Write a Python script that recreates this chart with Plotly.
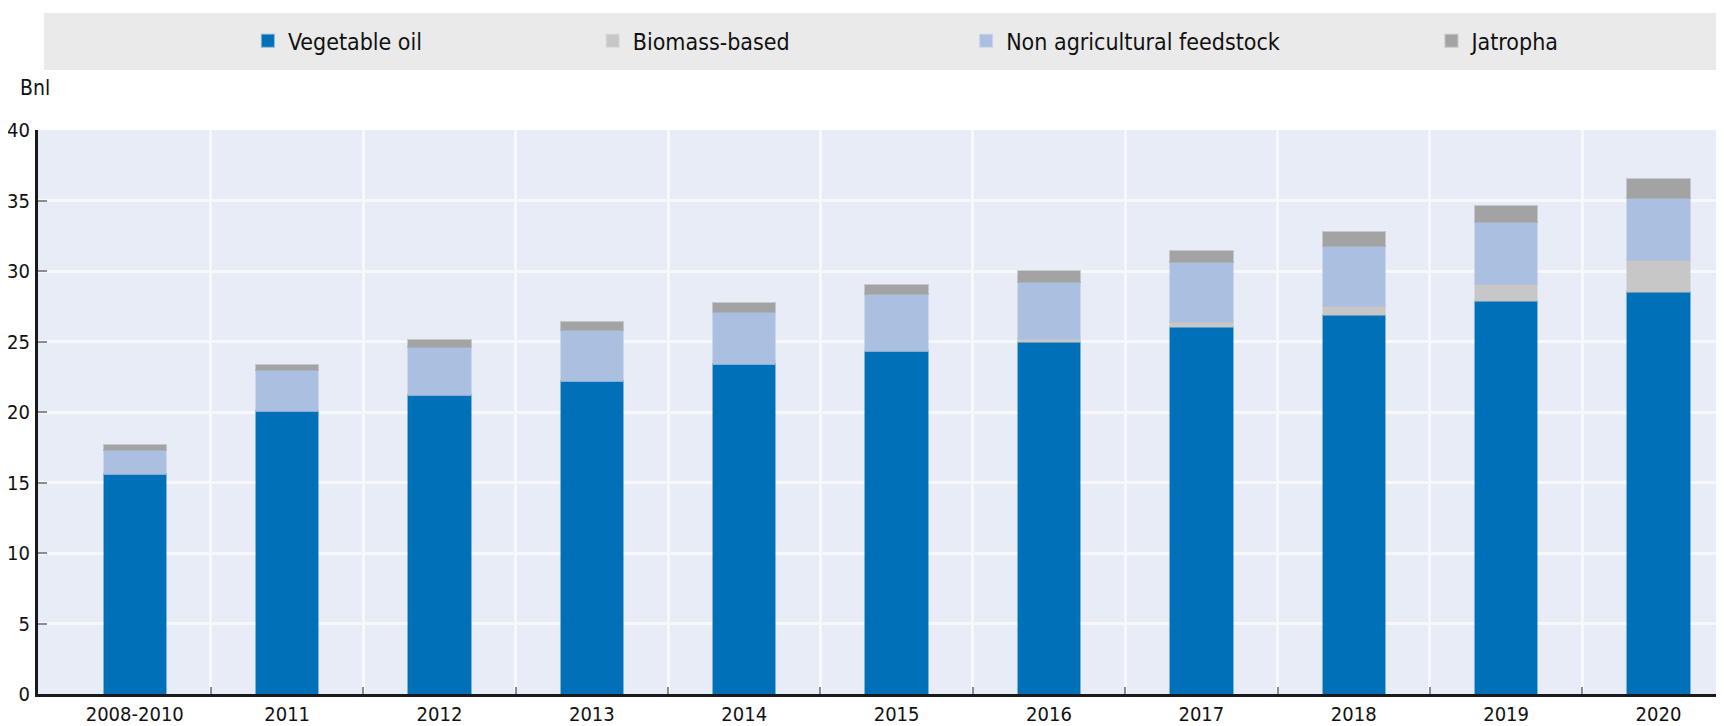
import plotly.graph_objects as go

# data (billion litres)
categories = ["2008-2010", "2011", "2012", "2013", "2014", "2015",
              "2016", "2017", "2018", "2019", "2020"]
vegetable_oil = [15.6, 20.1, 21.2, 22.2, 23.4, 24.3, 25.0, 26.0, 26.9, 27.9, 28.5]
biomass_based = [0.0, 0.0, 0.0, 0.0, 0.0, 0.05, 0.15, 0.35, 0.65, 1.2, 2.3]
non_agri = [1.7, 2.9, 3.4, 3.6, 3.7, 4.0, 4.1, 4.3, 4.2, 4.4, 4.4]
jatropha = [0.35, 0.35, 0.5, 0.55, 0.6, 0.65, 0.75, 0.8, 1.05, 1.1, 1.3]

FONT = "Liberation Sans Narrow, DejaVu Sans Condensed, Arial Narrow, sans-serif"

series = [
    ("Vegetable oil", vegetable_oil, "#0070B8", "rgba(0,112,184,0.45)"),
    ("Biomass-based", biomass_based, "#C7C7C7", "rgba(199,199,199,0.5)"),
    ("Non agricultural feedstock", non_agri, "#ABBFE1", "rgba(171,191,225,0.5)"),
    ("Jatropha", jatropha, "#A3A3A3", "rgba(163,163,163,0.5)"),
]
legend_ids = ["legend", "legend2", "legend3", "legend4"]
legend_x = [0.1245, 0.329, 0.5505, 0.8265]

xs = list(range(len(categories)))

fig = go.Figure()
for (name, vals, col, edge), lid in zip(series, legend_ids):
    fig.add_trace(go.Bar(
        x=xs, y=vals, name=name, legend=lid,
        marker=dict(color=col, line=dict(color=edge, width=2)),
        width=0.41,
    ))

legends = {}
for lid, lx in zip(legend_ids, legend_x):
    legends[lid] = dict(x=lx, y=1.158, xanchor="left", yanchor="middle",
                        orientation="h", bgcolor="rgba(0,0,0,0)",
                        font=dict(size=23, color="#111111", family=FONT),
                        itemclick=False)

# page body adds an 8px margin, so the figure is 8px smaller each way
fig.update_layout(
    barmode="stack",
    width=1716, height=718,
    margin=dict(l=30, r=0, t=122, b=32, autoexpand=False),
    paper_bgcolor="white",
    plot_bgcolor="#E8ECF6",
    font=dict(family=FONT, size=23, color="#111111"),
    showlegend=True,
    **legends,
)

# grey legend band
fig.add_shape(type="rect", xref="paper", yref="paper",
              x0=0.0036, x1=1.0, y0=1.1064, y1=1.2074,
              fillcolor="#EAEAEA", line=dict(width=0), layer="below")

fig.add_annotation(text="Bnl", xref="paper", yref="paper", x=0, y=1.0745,
                   xanchor="left", yanchor="middle", xshift=-20,
                   showarrow=False,
                   font=dict(size=21, family=FONT, color="#111111"))

fig.update_xaxes(
    range=[-0.635, 10.43],
    tickvals=xs, ticktext=categories,
    showgrid=False, ticks="",
    showline=True, linecolor="#1a1a1a", linewidth=3,
    tickfont=dict(size=20, family=FONT),
    ticklabelstandoff=0,
    automargin=False,
    minor=dict(tickvals=[x + 0.5 for x in xs], showgrid=True,
               gridcolor="#F7F8FC", gridwidth=3,
               ticks="inside", ticklen=7, tickcolor="#8c8c8c", tickwidth=2),
    fixedrange=True,
)
fig.update_yaxes(
    range=[0, 40], dtick=5,
    showgrid=True, gridcolor="#F7F8FC", gridwidth=3,
    zeroline=False,
    showline=True, linecolor="#1a1a1a", linewidth=3,
    ticks="inside", ticklen=9, tickcolor="#8c8c8c", tickwidth=2,
    tickfont=dict(size=20, family=FONT),
    ticklabelstandoff=1,
    automargin=False,
    fixedrange=True,
)

fig.write_html("out.html")
